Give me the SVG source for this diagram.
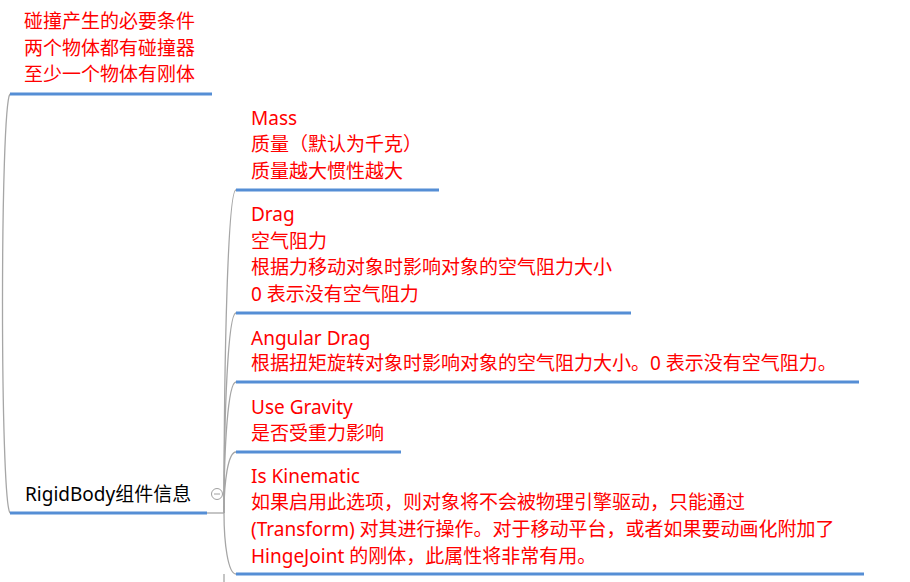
<svg xmlns="http://www.w3.org/2000/svg" width="910" height="582" viewBox="0 0 910 582">
<style>
text{font-family:"Noto Sans","Noto Sans CJK SC",sans-serif;font-size:19px;fill:#ff0000}
.root{fill:#000}
.ul{stroke:#558ed5;stroke-width:3;fill:none}
.cn{stroke:#a6a6a6;stroke-width:1.3;fill:none}
</style>
<rect width="910" height="582" fill="#fff"/>
<g id="connectors">
<path class="cn" d="M10,513 C0,500 0,107 10,94"/>
<path class="cn" d="M207,513 L224,513"/>
<path class="cn" d="M224,513 C224,351 228,190 236,190"/>
<path class="cn" d="M224,513 C224,413 228,313 236,313"/>
<path class="cn" d="M224,513 C224,447 228,382 236,382"/>
<path class="cn" d="M224,513 C224,482 228,452 236,452"/>
<path class="cn" d="M224,513 C224,543 228,574 236,574"/>
<path class="cn" d="M224,574 L224,582"/>
</g>
<g id="root">
<text class="root" x="25" y="501">RigidBody组件信息</text>
<line class="ul" x1="10" y1="513" x2="207" y2="513"/>
<circle cx="217" cy="494" r="5.5" fill="#fff" stroke="#a0a0a0" stroke-width="1"/>
<line x1="214" y1="494" x2="220" y2="494" stroke="#a0a0a0" stroke-width="1"/>
</g>
<g id="collision">
<text x="24" y="28">碰撞产生的必要条件</text>
<text x="24" y="55">两个物体都有碰撞器</text>
<text x="24" y="81">至少一个物体有刚体</text>
<line class="ul" x1="10" y1="94" x2="212" y2="94"/>
</g>
<g id="mass">
<text x="251" y="125">Mass</text>
<text x="251" y="151">质量（默认为千克）</text>
<text x="251" y="178">质量越大惯性越大</text>
<line class="ul" x1="236" y1="190" x2="439" y2="190"/>
</g>
<g id="drag">
<text x="251" y="221">Drag</text>
<text x="251" y="248">空气阻力</text>
<text x="251" y="274">根据力移动对象时影响对象的空气阻力大小</text>
<text x="251" y="301">0 表示没有空气阻力</text>
<line class="ul" x1="236" y1="313" x2="631" y2="313"/>
</g>
<g id="angular-drag">
<text x="251" y="345">Angular Drag</text>
<text x="251" y="370">根据扭矩旋转对象时影响对象的空气阻力大小。0 表示没有空气阻力。</text>
<line class="ul" x1="236" y1="382" x2="859" y2="382"/>
</g>
<g id="use-gravity">
<text x="251" y="414">Use Gravity</text>
<text x="251" y="440">是否受重力影响</text>
<line class="ul" x1="236" y1="452" x2="401" y2="452"/>
</g>
<g id="is-kinematic">
<text x="251" y="483">Is Kinematic</text>
<text x="251" y="509">如果启用此选项，则对象将不会被物理引擎驱动，只能通过</text>
<text x="251" y="536">(Transform) 对其进行操作。对于移动平台，或者如果要动画化附加了</text>
<text x="251" y="563">HingeJoint 的刚体，此属性将非常有用。</text>
<line class="ul" x1="236" y1="574" x2="864" y2="574"/>
</g>
</svg>
